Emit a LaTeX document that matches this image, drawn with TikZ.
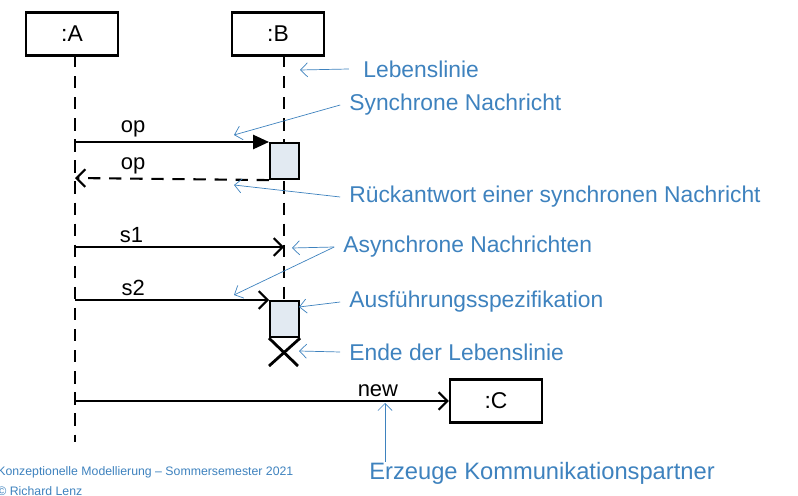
\documentclass[tikz,border=0pt]{standalone}
\usepackage{fontspec}
\setmainfont{Liberation Sans}
\usetikzlibrary{arrows.meta,positioning}
\definecolor{noteblue}{RGB}{62,130,190}
\definecolor{actfill}{RGB}{226,234,242}
\tikzset{
  obj/.style={draw,line width=1.2pt,minimum width=92*0.02cm,minimum height=43*0.02cm,font=\fontsize{13}{15}\selectfont},
  life/.style={line width=1.2pt,dash pattern=on 7pt off 5pt},
  act/.style={draw,line width=1.2pt,fill=actfill,minimum width=29*0.02cm,minimum height=36*0.02cm,inner sep=0pt},
  msg/.style={line width=1.2pt},
  lbl/.style={font=\fontsize{12.5}{14}\selectfont,inner sep=2pt},
  note/.style={text=noteblue,font=\fontsize{13}{15}\selectfont,anchor=west,inner sep=0pt},
  hint/.style={noteblue,thin,-{Straight Barb[length=4pt,width=8pt]}}
}
\begin{document}
\begin{tikzpicture}[x=0.02cm,y=-0.02cm]
    \useasboundingbox (0,0) rectangle (798,496);
    % objects
    \node[obj] (A) at (72,34) {:A};
    \node[obj] (B) at (278,34) {:B};
    \node[obj] (C) at (496,401) {:C};
    \coordinate (Aend) at (75,442);
    \coordinate (Bend) at (284,336);
    \draw[life] (75,55) -- (Aend);
    \draw[life] (284,55) -- (Bend);
    % activations
    \node[act,anchor=north west] (act1) at (269,142) {};
    \node[act,anchor=north west] (act2) at (269,300) {};
    \draw[line width=1.6pt] (act2.south west) -- (298,366);
    \draw[line width=1.6pt] (act2.south east) -- (269,366);
    % messages
    \coordinate (op1) at (75,142);
    \coordinate (op2) at (75,178);
    \coordinate (s1a) at (75,247);
    \coordinate (s1b) at (284,247);
    \coordinate (s2a) at (75,300);
    \coordinate (newa) at (75,401);
    \draw[msg,-{Triangle[length=9pt,width=8pt]}] (op1) -- (act1.north west) node[lbl,pos=0.3,above] {op};
    \draw[msg,dash pattern=on 7pt off 5pt,-{Straight Barb[length=5pt,width=10pt]}] (act1.south west) -- (op2) node[lbl,pos=0.7,above] {op};
    \draw[msg,-{Straight Barb[length=5pt,width=10pt]}] (s1a) -- (s1b) node[lbl,pos=0.27,above] {s1};
    \draw[msg,-{Straight Barb[length=5pt,width=10pt]}] (s2a) -- (act2.north west) node[lbl,pos=0.3,above] {s2};
    \draw[msg,-{Straight Barb[length=5pt,width=10pt]}] (newa) -- (C.west) node[lbl,pos=0.81,above] {new};
    % notes
    \node[note] (n1) at (363,69) {Lebenslinie};
    \node[note] (n2) at (349,105) {Synchrone Nachricht};
    \node[note] (n3) at (349,197) {Rückantwort einer synchronen Nachricht};
    \node[note] (n4) at (343,247) {Asynchrone Nachrichten};
    \node[note] (n5) at (349,302) {Ausführungsspezifikation};
    \node[note] (n6) at (349,352) {Ende der Lebenslinie};
    \node[note,font=\fontsize{13.5}{16}\selectfont] (n7) at (369,473) {Erzeuge Kommunikationspartner};
    \draw[hint] ([xshift=-8pt]n1.west) -- (300,70);
    \draw[hint] ([xshift=-5pt]n2.west) -- (234,135);
    \draw[hint] ([xshift=-5pt]n3.west) -- (234,185);
    \draw[hint] ([xshift=-5pt]n4.west) -- (292,248);
    \draw[hint] ([xshift=-5pt]n4.west) -- (234,295);
    \draw[hint] ([xshift=-5pt]n5.west) -- (299,307);
    \draw[hint] ([xshift=-5pt]n6.west) -- (299,351);
    \draw[hint] (385,462) -- (385,403);
    % footer
    \node[text=noteblue,font=\fontsize{7}{8}\selectfont,anchor=west,inner sep=0pt] (f1) at (-3,472) {Konzeptionelle Modellierung – Sommersemester 2021};
    \node[text=noteblue,font=\fontsize{7}{8}\selectfont,anchor=west,inner sep=0pt] (f2) at (-3,491) {© Richard Lenz};
\end{tikzpicture}
\end{document}
